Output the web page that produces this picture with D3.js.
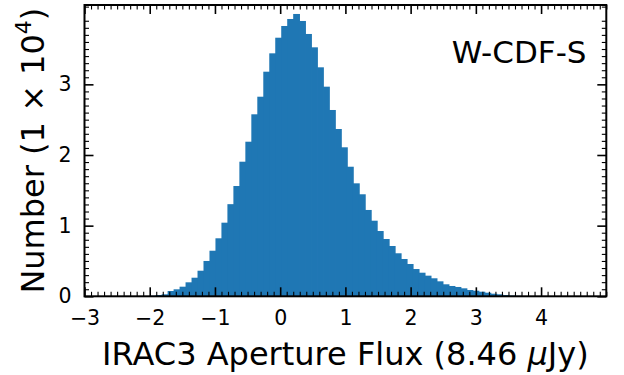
<!DOCTYPE html>
<html>
<head>
<meta charset="utf-8">
<script src="https://cdn.jsdelivr.net/npm/d3@7"></script>
<style>
  html, body { margin: 0; padding: 0; background: #fff; }
  svg { display: block; font-family: "DejaVu Sans", sans-serif; }
</style>
</head>
<body>
<svg id="chart" width="624" height="375"></svg>
<script>
// Histogram of aperture fluxes (in units of 8.46 uJy), counts in units of 1e4
const binStart = -1.909;
const binWidth = 0.09167;
const counts = [
  0.004, 0.008,
  0.018, 0.028, 0.075, 0.099, 0.136, 0.198, 0.263, 0.362, 0.500, 0.645,
  0.821, 1.042, 1.304, 1.561, 1.905, 2.188, 2.576, 2.825, 3.179, 3.439,
  3.660, 3.826, 3.925, 3.996, 3.897, 3.713, 3.524, 3.241, 2.967, 2.637,
  2.368, 2.109, 1.834, 1.599, 1.444, 1.222, 1.070, 0.924, 0.811, 0.712,
  0.609, 0.528, 0.457, 0.386, 0.334, 0.292, 0.255, 0.212, 0.170, 0.146,
  0.132, 0.113, 0.089, 0.079, 0.065, 0.051, 0.037, 0.028, 0.018, 0.011,
  0.007, 0.004, 0.003, 0.002
];
const firstBinOffset = -2; // two tiny bins precede binStart
const xTicks = [-3, -2, -1, 0, 1, 2, 3, 4];
const yTicks = [0, 1, 2, 3];
const xDomain = [-3, 5];
const yDomain = [0, 4.123];
const fieldName = "W-CDF-S";

const svg = d3.select("#chart");
const m = { left: 84.5, right: 606.3, top: 5, bottom: 296.3 };

const x = d3.scaleLinear().domain(xDomain).range([m.left, m.right]);
const y = d3.scaleLinear().domain(yDomain).range([m.bottom, m.top]);

const bins = counts.map((c, i) => {
  const x0 = binStart + (i + firstBinOffset) * binWidth;
  return { x0, x1: x0 + binWidth, v: c };
});

// bars: each bar overlaps its right neighbour slightly so no seams show
svg.append("g")
  .selectAll("rect")
  .data(bins)
  .join("rect")
  .attr("x", d => x(d.x0))
  .attr("width", d => x(d.x1) - x(d.x0) + 0.8)
  .attr("y", d => y(d.v))
  .attr("height", d => y(0) - y(d.v))
  .attr("fill", "#1f77b4");

// minor tick values
const xMinor = d3.range(-30, 51).map(v => v / 10).filter(v => !xTicks.includes(v));
const yMinor = d3.range(0, 42).map(v => v / 10).filter(v => v <= yDomain[1] && !Number.isInteger(v));

const fmt = d => d < 0 ? "\u2212" + Math.abs(d) : String(d);
const majorLen = 9, minorLen = 4.5;

function styleAxis(g, width) {
  g.select(".domain").remove();
  g.selectAll(".tick line").attr("stroke", "#000").attr("stroke-width", width);
  g.selectAll(".tick text").attr("fill", "#000").attr("font-size", 20.5).attr("font-family", "DejaVu Sans");
}

// bottom
svg.append("g").attr("transform", `translate(0,${m.bottom})`)
  .call(d3.axisBottom(x).tickValues(xTicks).tickFormat(fmt).tickSize(-majorLen).tickPadding(14))
  .call(g => styleAxis(g, 1.6));
svg.append("g").attr("transform", `translate(0,${m.bottom})`)
  .call(d3.axisBottom(x).tickValues(xMinor).tickFormat("").tickSize(-minorLen))
  .call(g => styleAxis(g, 1.1));
// top
svg.append("g").attr("transform", `translate(0,${m.top})`)
  .call(d3.axisTop(x).tickValues(xTicks).tickFormat("").tickSize(-majorLen))
  .call(g => styleAxis(g, 1.6));
svg.append("g").attr("transform", `translate(0,${m.top})`)
  .call(d3.axisTop(x).tickValues(xMinor).tickFormat("").tickSize(-minorLen))
  .call(g => styleAxis(g, 1.1));
// left
svg.append("g").attr("transform", `translate(${m.left},0)`)
  .call(d3.axisLeft(y).tickValues(yTicks).tickFormat(fmt).tickSize(-majorLen).tickPadding(13))
  .call(g => styleAxis(g, 1.6));
svg.append("g").attr("transform", `translate(${m.left},0)`)
  .call(d3.axisLeft(y).tickValues(yMinor).tickFormat("").tickSize(-minorLen))
  .call(g => styleAxis(g, 1.1));
// right
svg.append("g").attr("transform", `translate(${m.right},0)`)
  .call(d3.axisRight(y).tickValues(yTicks).tickFormat("").tickSize(-majorLen))
  .call(g => styleAxis(g, 1.6));
svg.append("g").attr("transform", `translate(${m.right},0)`)
  .call(d3.axisRight(y).tickValues(yMinor).tickFormat("").tickSize(-minorLen))
  .call(g => styleAxis(g, 1.1));

// frame
svg.append("rect")
  .attr("x", m.left).attr("y", m.top)
  .attr("width", m.right - m.left).attr("height", m.bottom - m.top)
  .attr("fill", "none").attr("stroke", "#000").attr("stroke-width", 2);

// field name
svg.append("text")
  .attr("x", 586.5).attr("y", 63)
  .attr("text-anchor", "end")
  .attr("font-size", 31)
  .attr("fill", "#000")
  .text(fieldName);

// x label
const xl = svg.append("text")
  .attr("x", (m.left + m.right) / 2).attr("y", 365)
  .attr("text-anchor", "middle")
  .attr("font-size", 32)
  .attr("fill", "#000");
xl.append("tspan").text("IRAC3 Aperture Flux (8.46 ");
xl.append("tspan").attr("font-style", "italic").text("\u03bc");
xl.append("tspan").text("Jy)");

// y label
const yl = svg.append("text")
  .attr("transform", `translate(43.5,${(m.top + m.bottom) / 2}) rotate(-90)`)
  .attr("text-anchor", "middle")
  .attr("font-size", 32)
  .attr("fill", "#000");
yl.append("tspan").text("Number (1 \u00d7 10");
yl.append("tspan").attr("font-size", 22).attr("dy", -13).text("4");
yl.append("tspan").attr("dy", 13).text(")");
</script>
</body>
</html>
